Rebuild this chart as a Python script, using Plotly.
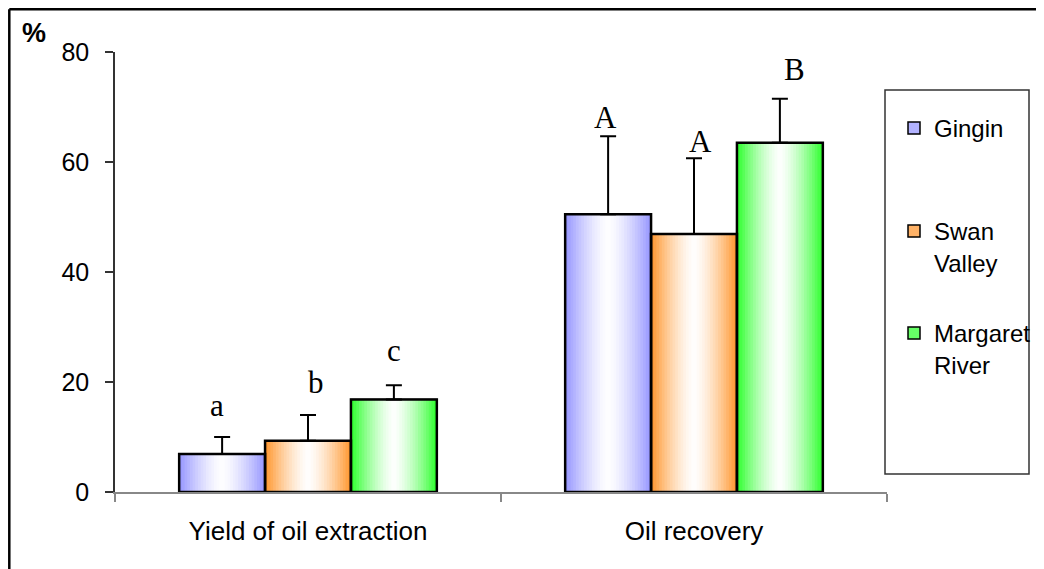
import plotly.graph_objects as go

# ---------------- data ----------------
categories = ["Yield of oil extraction", "Oil recovery"]
series_names = ["Gingin", "Swan<br>Valley", "Margaret<br>River"]

gingin = [6.9, 50.5]
swan_valley = [9.3, 46.9]
margaret_river = [16.8, 63.5]

gingin_err = [3.1, 14.2]
swan_valley_err = [4.7, 13.8]
margaret_river_err = [2.6, 8.0]

gingin_letters = ["a", "A"]
swan_valley_letters = ["b", "A"]
margaret_river_letters = ["c", "B"]

# height (in %) of the significance letters' baseline
gingin_letter_y = [13.5, 65.8]
swan_valley_letter_y = [17.6, 61.5]
margaret_river_letter_y = [23.5, 74.5]

y_ticks = [0, 20, 40, 60, 80]

# ---------------- styling ----------------
values = [gingin, swan_valley, margaret_river]
errors = [gingin_err, swan_valley_err, margaret_river_err]
letters = [gingin_letters, swan_valley_letters, margaret_river_letters]
letter_ys = [gingin_letter_y, swan_valley_letter_y, margaret_river_letter_y]
letter_xshift = [[-5, -3], [8, 6], [0, 15]]
edge_colors = [(153, 153, 255), (255, 153, 51), (51, 255, 51)]
legend_ids = ["legend", "legend2", "legend3"]
legend_tops = [106, 209, 311]   # page pixel rows of each legend entry

PAGE_OFF = 8          # browser default body margin
W_REF, H_REF = 1044, 569
W = W_REF - PAGE_OFF
H = H_REF - PAGE_OFF
AX_LEFT, AX_RIGHT, AX_TOP, AX_BOTTOM = 115, 887, 52, 492  # page pixels
ML = AX_LEFT - PAGE_OFF
MT = AX_TOP - PAGE_OFF
MR = W - (AX_RIGHT - PAGE_OFF)
MB = H - (AX_BOTTOM - PAGE_OFF)
plot_w = AX_RIGHT - AX_LEFT
plot_h = AX_BOTTOM - AX_TOP

bar_w = 0.2225
N_LEVELS = 16
SANS = "Liberation Sans, Arial, sans-serif"
SERIF = "Liberation Serif, Times New Roman, serif"


def mix(c, f):
    r = round(255 + (c[0] - 255) * f)
    g = round(255 + (c[1] - 255) * f)
    b = round(255 + (c[2] - 255) * f)
    return f"rgb({r},{g},{b})"


def px_x(px):
    return (px - AX_LEFT) / plot_w


def px_y(py):
    return (AX_BOTTOM - py) / plot_h


def cont_x(px):
    return (px - PAGE_OFF) / W


def cont_y(py):
    return 1 - (py - PAGE_OFF) / H


fig = go.Figure()

for si in range(3):
    center_off = (si - 1) * bar_w
    c = edge_colors[si]
    # legend / base bar (full colour)
    fig.add_trace(go.Bar(
        x=categories, y=values[si], name=series_names[si],
        width=bar_w, offset=center_off - bar_w / 2,
        marker=dict(color=mix(c, 0.75), line=dict(color="black", width=1.5)),
        legend=legend_ids[si], showlegend=True, hoverinfo="skip",
    ))
    # nested bars to imitate the horizontal gradient
    for k in range(N_LEVELS):
        t = 1 - k / N_LEVELS
        f = t ** 1.5
        wk = bar_w * t
        fig.add_trace(go.Bar(
            x=categories, y=values[si],
            width=wk, offset=center_off - wk / 2,
            marker=dict(color=mix(c, f), line=dict(width=0)),
            showlegend=False, hoverinfo="skip",
        ))

# outlines + error bars on top
for si in range(3):
    center_off = (si - 1) * bar_w
    fig.add_trace(go.Bar(
        x=categories, y=values[si],
        width=bar_w, offset=center_off - bar_w / 2,
        marker=dict(color="rgba(0,0,0,0)", line=dict(color="black", width=2.5)),
        error_y=dict(type="data", symmetric=False, array=errors[si],
                     arrayminus=[0] * len(errors[si]),
                     color="black", thickness=2, width=8),
        showlegend=False,
    ))

annotations = []
for si in range(3):
    for ci in range(len(categories)):
        annotations.append(dict(
            x=ci + (si - 1) * bar_w, y=letter_ys[si][ci], xref="x", yref="y",
            text=letters[si][ci], showarrow=False, yanchor="bottom",
            xanchor="center", xshift=letter_xshift[si][ci], yshift=-7,
            font=dict(family=SERIF, size=31, color="black"),
        ))

annotations.append(dict(
    x=px_x(34), y=px_y(33), xref="paper", yref="paper", text="<b>%</b>",
    showarrow=False, xanchor="center", yanchor="middle",
    font=dict(family=SANS, size=27, color="black"),
))

shapes = [
    # outer frame (top and left edges visible)
    dict(type="line", xref="paper", yref="paper",
         x0=px_x(9.3), x1=px_x(9.3), y0=px_y(H_REF + 10), y1=px_y(9.3),
         line=dict(color="black", width=2.5)),
    dict(type="line", xref="paper", yref="paper",
         x0=px_x(9.3), x1=px_x(W_REF + 10), y0=px_y(9.3), y1=px_y(9.3),
         line=dict(color="black", width=2.5)),
    # legend box
    dict(type="rect", xref="paper", yref="paper",
         x0=px_x(885), x1=px_x(1029), y0=px_y(474), y1=px_y(90),
         line=dict(color="#333333", width=1.5), fillcolor="rgba(0,0,0,0)"),
]

legend_style = dict(
    xref="container", yref="container",
    xanchor="left", yanchor="top", x=cont_x(894),
    bgcolor="rgba(0,0,0,0)", borderwidth=0,
    font=dict(family=SANS, size=24, color="black"),
    valign="top", itemwidth=30,
)

fig.update_layout(
    width=W, height=H,
    margin=dict(l=ML, r=MR, t=MT, b=MB, pad=0, autoexpand=False),
    barmode="overlay",
    plot_bgcolor="white", paper_bgcolor="white",
    font=dict(family=SANS, color="black"),
    showlegend=True,
    legend=dict(y=cont_y(legend_tops[0]), **legend_style),
    legend2=dict(y=cont_y(legend_tops[1]), **legend_style),
    legend3=dict(y=cont_y(legend_tops[2]), **legend_style),
    annotations=annotations,
    shapes=shapes,
    xaxis=dict(
        type="category", range=[-0.5, 1.5],
        showline=True, linecolor="#888888", linewidth=1.5,
        ticks="outside", tickson="boundaries", ticklen=8,
        tickcolor="#888888", tickwidth=1.5,
        showgrid=False, zeroline=False,
        tickfont=dict(family=SANS, size=26, color="black"),
        ticklabelstandoff=15,
    ),
    yaxis=dict(
        range=[0, 80], tickvals=y_ticks,
        showline=True, linecolor="#333333", linewidth=1.5,
        ticks="outside", ticklen=8, tickcolor="#333333", tickwidth=1.5,
        showgrid=False, zeroline=False,
        tickfont=dict(family=SANS, size=25, color="black"),
        ticklabelstandoff=11,
    ),
)

fig.write_html("out.html")
